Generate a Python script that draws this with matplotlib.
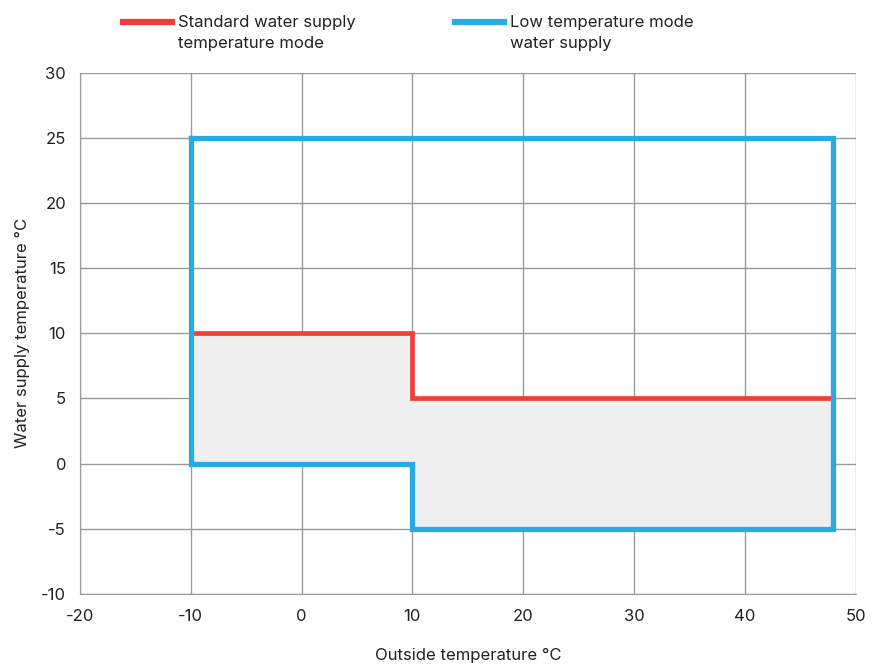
import matplotlib
matplotlib.use("Agg")
import matplotlib.pyplot as plt
from matplotlib.lines import Line2D

plt.rcParams['font.family'] = ['Inter', 'DejaVu Sans']
plt.rcParams['axes.unicode_minus'] = False

# Data
low_x = [-10, 48, 48, 10, 10, -10, -10]
low_y = [25, 25, -5, -5, 0, 0, 25]
std_x = [-10, 10, 10, 48]
std_y = [10, 10, 5, 5]
fill_x = [-10, 10, 10, 48, 48, 10, 10, -10]
fill_y = [10, 10, 5, 5, -5, -5, 0, 0]
x_ticks = [-20, -10, 0, 10, 20, 30, 40, 50]
y_ticks = [-10, -5, 0, 5, 10, 15, 20, 25, 30]
labels = ["Standard water supply\ntemperature mode", "Low temperature mode\nwater supply"]

red = "#ee4036"
blue = "#29abe2"

fig = plt.figure(figsize=(8.74, 6.68), dpi=100)
ax = fig.add_axes([0.0915, 0.111, 0.8875, 0.780])

ax.fill(fill_x, fill_y, color="#efefef", zorder=1, lw=0)
ax.plot(std_x, std_y, color=red, lw=3.4, zorder=3, solid_joinstyle='miter')
ax.plot(low_x, low_y, color=blue, lw=3.8, zorder=4, solid_joinstyle='miter')

ax.set_xlim(-20, 50)
ax.set_ylim(-10, 30)
ax.set_xticks(x_ticks)
ax.set_yticks(y_ticks)
ax.grid(True, color="#9a9a9a", lw=1.0, zorder=0)
ax.set_axisbelow(True)
for s in ax.spines.values():
    s.set_visible(False)
ax.spines['left'].set_visible(True)
ax.spines['bottom'].set_visible(True)
ax.spines['left'].set_color("#9a9a9a")
ax.spines['bottom'].set_color("#9a9a9a")
ax.tick_params(length=0, labelsize=12, colors="#222222")
ax.tick_params(axis='x', pad=11)
ax.tick_params(axis='y', pad=10)
ax.set_xlabel("Outside temperature °C", fontsize=12, labelpad=17, color="#222222")
ax.set_ylabel("Water supply temperature °C", fontsize=12, labelpad=8, color="#222222")

# Legend (manual, handle aligned with first text line)
colors = [red, blue]
starts = [0.141, 0.521]
for c, x0, lab in zip(colors, starts, labels):
    fig.add_artist(Line2D([x0, x0 + 0.056], [0.967, 0.967], color=c, lw=4.5,
                          transform=fig.transFigure))
    fig.text(x0 + 0.063, 0.978, lab, fontsize=12, va='top', ha='left',
             color="#222222", linespacing=1.5)

fig.savefig("out.png", dpi=100)
